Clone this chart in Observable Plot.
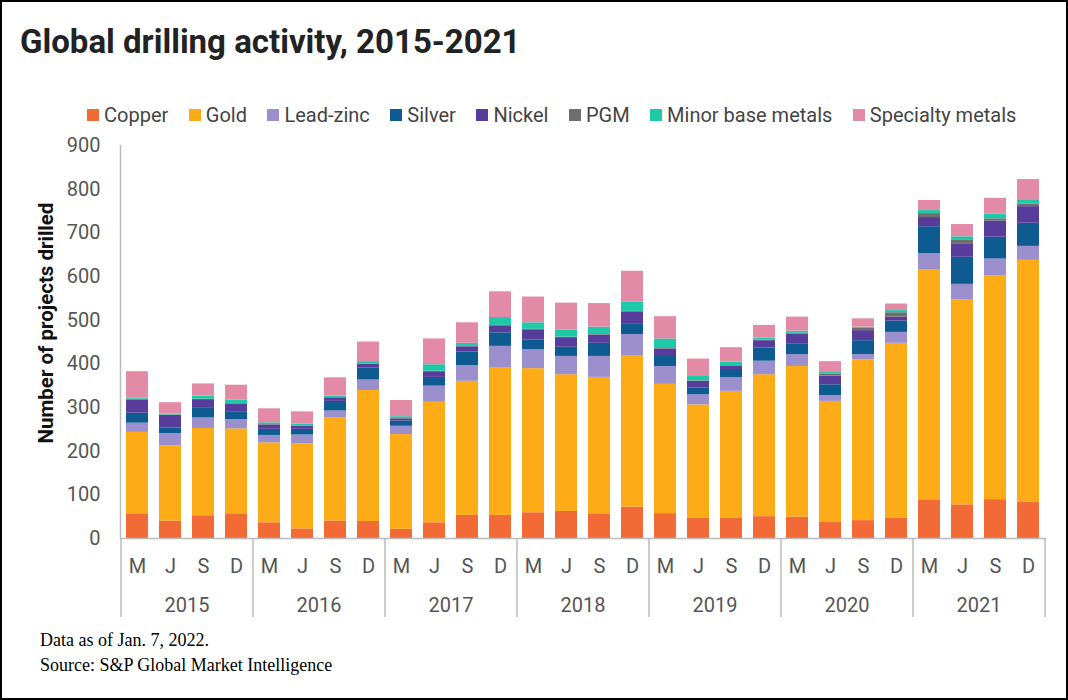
<!DOCTYPE html>
<html>
<head>
<meta charset="utf-8">
<script src="https://cdn.jsdelivr.net/npm/d3@7"></script>
<script src="https://cdn.jsdelivr.net/npm/@observablehq/plot@0.6"></script>
<style>
  html, body { margin: 0; padding: 0; background: #fff; }
  #wrap { position: relative; width: 1068px; height: 700px; overflow: hidden; background: #fff; }
  #border { position: absolute; left: 0; top: 0; width: 1068px; height: 700px; box-sizing: border-box; border: 2px solid #000; pointer-events: none; }
  #title { position: absolute; left: 20px; top: 22px; margin: 0; font-family: Roboto, sans-serif; font-weight: 700; font-size: 33px; letter-spacing: 0px; color: #222; white-space: nowrap; line-height: 40px; }
  #legend { position: absolute; left: 87px; top: 103px; display: flex; gap: 20.5px; font-family: Roboto, sans-serif; font-size: 20px; color: #444; white-space: nowrap; }
  #legend .item { display: flex; align-items: center; gap: 5px; }
  #legend .sw { width: 12px; height: 12px; display: inline-block; }
  #chart { position: absolute; left: 0; top: 131px; }
  #caption { position: absolute; left: 40px; top: 628px; font-family: "Liberation Serif", "Times New Roman", serif; font-size: 18px; line-height: 25px; color: #000; }
</style>
</head>
<body>
<div id="wrap">
  <div id="title">Global drilling activity, 2015-2021</div>
  <div id="legend"></div>
  <div id="chart"></div>
  <div id="caption">Data as of Jan. 7, 2022.<br>Source: S&amp;P Global Market Intelligence</div>
  <div id="border"></div>
</div>
<script>
// ---- Data ----
const years = ["2015", "2016", "2017", "2018", "2019", "2020", "2021"];
const months = ["M", "J", "S", "D"];
const metals = ["Copper", "Gold", "Lead-zinc", "Silver", "Nickel", "PGM", "Minor base metals", "Specialty metals"];
const colors = ["#f26b36", "#fdab17", "#9b8fcd", "#0d5b91", "#573c9c", "#6e6e6e", "#1fc8a6", "#e38aa7"];
const yTicks = [0, 100, 200, 300, 400, 500, 600, 700, 800, 900];

const copper    = [55, 40, 52, 55, 36, 22, 40, 39, 21, 36, 53, 53, 59, 62, 55, 72, 57, 47, 47, 50, 49, 37, 41, 47, 87, 77, 89, 83];
const gold      = [188, 172, 200, 196, 183, 195, 236, 300, 217, 276, 307, 337, 330, 313, 314, 347, 296, 259, 290, 325, 345, 277, 368, 400, 529, 470, 512, 554];
const leadZinc  = [21, 28, 24, 21, 17, 20, 16, 24, 19, 37, 36, 50, 43, 42, 48, 48, 41, 23, 31, 31, 27, 13, 12, 25, 36, 35, 39, 32];
const silver    = [23, 13, 22, 17, 14, 13, 22, 27, 12, 20, 31, 31, 23, 21, 30, 25, 25, 16, 19, 30, 25, 25, 32, 26, 62, 62, 50, 53];
const nickel    = [30, 29, 20, 19, 10, 7, 8, 9, 5, 13, 12, 16, 23, 22, 19, 27, 15, 15, 8, 17, 22, 20, 23, 9, 21, 31, 37, 38];
const pgm       = [2, 1, 1, 1, 1, 1, 1, 1, 1, 1, 1, 1, 1, 1, 1, 1, 1, 1, 1, 1, 2, 5, 6, 10, 9, 9, 5, 6];
const minorBase = [3, 2, 7, 8, 4, 4, 3, 5, 4, 15, 7, 18, 15, 16, 17, 21, 22, 10, 8, 5, 5, 3, 2, 5, 7, 7, 11, 8];
const specialty = [60, 26, 28, 34, 32, 28, 42, 45, 37, 59, 47, 59, 59, 62, 54, 71, 51, 40, 33, 29, 32, 25, 19, 15, 23, 28, 36, 48];

const series = [copper, gold, leadZinc, silver, nickel, pgm, minorBase, specialty];

// ---- Build table ----
const keys = [];
years.forEach(y => months.forEach(m => keys.push(y + " " + m)));
const rows = [];
keys.forEach((k, i) => {
  metals.forEach((metal, j) => rows.push({key: k, metal, value: series[j][i]}));
});

// ---- Legend ----
const legend = document.getElementById("legend");
metals.forEach((m, i) => {
  const it = document.createElement("span");
  it.className = "item";
  const sw = document.createElement("span");
  sw.className = "sw";
  sw.style.background = colors[i];
  const tx = document.createElement("span");
  tx.textContent = m;
  it.appendChild(sw); it.appendChild(tx);
  legend.appendChild(it);
});

// ---- Layout ----
const W = 1068, H = 489;
const mLeft = 120, mRight = 22, mTop = 14, mBottom = 82;
const step = (W - mLeft - mRight) / keys.length;
const pxPerUnit = (H - mTop - mBottom) / 900;
const sepDepth = 79 / pxPerUnit;

const firstKeys = years.map(y => y + " M");
const lastKey = [keys[keys.length - 1]];
const yearLabelKeys = years.map(y => y + " J");

const chart = Plot.plot({
  width: W,
  height: H,
  marginLeft: mLeft,
  marginRight: mRight,
  marginTop: mTop,
  marginBottom: mBottom,
  style: {fontFamily: "Roboto, sans-serif", fontSize: "20px", color: "#555", background: "transparent", overflow: "visible"},
  x: {type: "band", domain: keys, paddingInner: 0.33, paddingOuter: 0.165, tickSize: 0, tickPadding: 20, tickFormat: k => k.split(" ")[1], label: null},
  y: {domain: [0, 900], ticks: yTicks, tickSize: 0, tickPadding: 20, label: null},
  color: {domain: metals, range: colors},
  marks: [
    Plot.barY(rows, {x: "key", y: "value", fill: "metal", order: metals}),
    Plot.ruleY([0], {stroke: "#bbb", strokeWidth: 1.5}),
    Plot.frame({anchor: "left", stroke: "#bbb", strokeWidth: 1.5}),
    Plot.ruleX(firstKeys, {x: d => d, y1: 0, y2: -sepDepth, dx: -step / 2, stroke: "#bbb", strokeWidth: 1.5}),
    Plot.ruleX(lastKey, {x: d => d, y1: 0, y2: -sepDepth, dx: step / 2, stroke: "#bbb", strokeWidth: 1.5}),
    Plot.text(yearLabelKeys, {x: d => d, y: 0, dx: step / 2, dy: 67, text: d => d.split(" ")[0], fill: "#555", fontSize: 20}),
    Plot.text(["Number of projects drilled"], {frameAnchor: "left", textAnchor: "middle", lineAnchor: "middle", rotate: -90, dx: -74, dy: -19, text: d => d, fontWeight: "bold", fontSize: 20.5, fill: "#111"})
  ]
});
document.getElementById("chart").appendChild(chart);
</script>
</body>
</html>
